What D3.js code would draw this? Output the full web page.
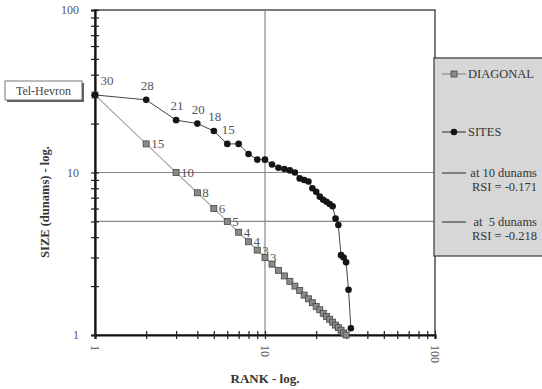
<!DOCTYPE html>
<html>
<head>
<meta charset="utf-8">
<script src="https://cdn.jsdelivr.net/npm/d3@7"></script>
<style>
  body { margin: 0; background: #fff; }
  text { font-family: 'Liberation Serif', 'DejaVu Serif', serif; }
</style>
</head>
<body>
<svg width="542" height="389"></svg>
<script>
// rank-size data
var diagRanks = [1,2,3,4,5,6,7,8,9,10,11,12,13,14,15,16,17,18,19,20,21,22,23,24,25,26,27,28,29,30];
var diagSizes = [30,15,10,7.5,6,5,4.29,3.75,3.33,3,2.73,2.5,2.31,2.14,2,1.88,1.76,1.67,1.58,1.5,1.43,1.36,1.3,1.25,1.2,1.15,1.11,1.07,1.03,1];
var diagLabels = ["","15","10","8","6","5","4","4","3","3"];

var siteRanks = [1,2,3,4,5,6,7,8,9,10,11,12,13,14,15,16,17,18,19,20,21,22,23,24,25,26,27,28,29,30,31,32];
var siteSizes = [30,28,21,20,18,15,15,13,12,12,11.2,10.7,10.5,10.3,10,9.2,9,8.8,8,7.6,7.1,6.8,6.6,6.4,6.2,5.2,4.75,3.1,3,2.8,1.9,1.1];
var siteLabels = ["30","28","21","20","18","15"];

var gridSizes = [10, 5];
var gridRanks = [10];
var majorTicks = [1, 10, 100];
var minorTicks = [1,2,3,4,5,6,7,8,9,10,20,30,40,50,60,70,80,90,100];

var legendItems = [
  {name: "DIAGONAL", kind: "diag"},
  {name: "SITES", kind: "site"},
  {name: "at 10 dunams", sub: "RSI = -0.171", kind: "line"},
  {name: "at  5 dunams", sub: "RSI = -0.218", kind: "line"}
];

var serif = "'Liberation Serif', 'DejaVu Serif', serif";

var svg = d3.select('svg').attr('font-family', serif);

var x = d3.scaleLog().domain([1, 100]).range([95, 435]);
var y = d3.scaleLog().domain([1, 100]).range([335, 10]);

// frame
svg.append('rect')
    .attr('x', 95).attr('y', 10)
    .attr('width', 340).attr('height', 325)
    .attr('fill', 'none')
    .attr('stroke', '#333')
    .attr('stroke-width', 1.3);

// grid lines
svg.selectAll('.hgrid')
    .data(gridSizes)
    .enter()
    .append('line')
    .attr('x1', 95).attr('x2', 435)
    .attr('y1', function(d) { return y(d); })
    .attr('y2', function(d) { return y(d); })
    .attr('stroke', '#888')
    .attr('stroke-width', 1.2);

svg.selectAll('.vgrid')
    .data(gridRanks)
    .enter()
    .append('line')
    .attr('x1', function(d) { return x(d); })
    .attr('x2', function(d) { return x(d); })
    .attr('y1', 10).attr('y2', 335)
    .attr('stroke', '#888')
    .attr('stroke-width', 1.2);

function fmt(d) { return majorTicks.indexOf(d) >= 0 ? String(d) : ''; }

var yAxis = svg.append('g')
    .attr('transform', 'translate(95,0)')
    .call(d3.axisLeft(y).tickValues(minorTicks).tickFormat(fmt).tickSize(4).tickPadding(12));

var xAxis = svg.append('g')
    .attr('transform', 'translate(0,335)')
    .call(d3.axisBottom(x).tickValues(minorTicks).tickFormat(fmt).tickSize(4).tickPadding(10));

[yAxis, xAxis].forEach(function(ax) {
  ax.attr('font-family', serif).attr('font-size', 12);
  ax.select('.domain').attr('stroke', '#111').attr('stroke-width', 2.2);
  ax.selectAll('.tick line').attr('stroke', '#222').attr('stroke-width', 1.2);
  ax.selectAll('text').attr('fill', '#555');
});
yAxis.selectAll('.tick line').attr('x1', 4);
xAxis.selectAll('.tick line').attr('y1', -4);
xAxis.selectAll('text')
    .attr('transform', 'rotate(90)')
    .attr('x', 10).attr('y', 0).attr('dy', '0.35em')
    .attr('text-anchor', 'start');

var diagData = diagRanks.map(function(r, i) { return {r: r, v: diagSizes[i], label: diagLabels[i] || ''}; });
var siteData = siteRanks.map(function(r, i) { return {r: r, v: siteSizes[i], label: siteLabels[i] || ''}; });

var line = d3.line()
    .x(function(d) { return x(d.r); })
    .y(function(d) { return y(d.v); });

// diagonal
svg.append('path')
    .datum(diagData)
    .attr('d', line)
    .attr('fill', 'none')
    .attr('stroke', '#aaa')
    .attr('stroke-width', 1.2);

svg.selectAll('.sq')
    .data(diagData)
    .enter()
    .append('rect')
    .attr('x', function(d) { return x(d.r) - 3; })
    .attr('y', function(d) { return y(d.v) - 3; })
    .attr('width', 6).attr('height', 6)
    .attr('fill', '#8a8a8a')
    .attr('stroke', '#444')
    .attr('stroke-width', 0.8);

svg.selectAll('.dlab')
    .data(diagData.filter(function(d) { return d.label; }))
    .enter()
    .append('text')
    .attr('x', function(d) { return x(d.r) + 5; })
    .attr('y', function(d) { return y(d.v); })
    .attr('dy', '0.35em')
    .attr('fill', '#555')
    .attr('font-size', 13)
    .text(function(d) { return d.label; });

// sites
svg.append('path')
    .datum(siteData)
    .attr('d', line)
    .attr('fill', 'none')
    .attr('stroke', '#444')
    .attr('stroke-width', 1);

svg.selectAll('.dot')
    .data(siteData)
    .enter()
    .append('circle')
    .attr('cx', function(d) { return x(d.r); })
    .attr('cy', function(d) { return y(d.v); })
    .attr('r', 3.3)
    .attr('fill', '#151515');

svg.selectAll('.slab')
    .data(siteData.filter(function(d) { return d.label; }))
    .enter()
    .append('text')
    .attr('x', function(d, i) { return x(d.r) + (i == 0 ? 12 : 1); })
    .attr('y', function(d) { return y(d.v) - 10; })
    .attr('text-anchor', 'middle')
    .attr('fill', '#555')
    .attr('font-size', 13)
    .text(function(d) { return d.label; });

// Tel-Hevron box
svg.append('rect')
    .attr('x', 7).attr('y', 83).attr('width', 77).attr('height', 19)
    .attr('fill', '#666');
svg.append('rect')
    .attr('x', 5).attr('y', 81).attr('width', 77).attr('height', 19)
    .attr('fill', '#fff').attr('stroke', '#555').attr('stroke-width', 0.8);
svg.append('text')
    .attr('x', 43.5).attr('y', 95)
    .attr('text-anchor', 'middle')
    .attr('fill', '#444')
    .attr('font-size', 12)
    .text('Tel-Hevron');

// axis titles
svg.append('text')
    .attr('x', 265).attr('y', 383)
    .attr('text-anchor', 'middle')
    .attr('fill', '#333')
    .attr('font-size', 13).attr('font-weight', 'bold')
    .text('RANK - log.');

svg.append('text')
    .attr('transform', 'translate(49,202) rotate(-90)')
    .attr('text-anchor', 'middle')
    .attr('fill', '#333')
    .attr('font-size', 12.5).attr('font-weight', 'bold')
    .text('SIZE (dunams) - log.');

// legend
svg.append('rect')
    .attr('x', 434).attr('y', 58).attr('width', 120).attr('height', 198)
    .attr('fill', '#d7d7d7')
    .attr('stroke', '#444')
    .attr('stroke-width', 1.3);

var legY = [74, 132, 173, 222];
var leg = svg.selectAll('.leg')
    .data(legendItems)
    .enter()
    .append('g')
    .attr('transform', function(d, i) { return 'translate(0,' + legY[i] + ')'; });

leg.append('line')
    .attr('x1', 442).attr('x2', 466)
    .attr('stroke', function(d) { return d.kind == 'diag' ? '#888' : '#444'; })
    .attr('stroke-width', 1.2);

leg.filter(function(d) { return d.kind == 'diag'; })
    .append('rect')
    .attr('x', 451).attr('y', -3).attr('width', 6).attr('height', 6)
    .attr('fill', '#8a8a8a').attr('stroke', '#444').attr('stroke-width', 0.8);

leg.filter(function(d) { return d.kind == 'site'; })
    .append('circle')
    .attr('cx', 454).attr('r', 3.3).attr('fill', '#151515');

leg.append('text')
    .attr('x', function(d) { return d.kind == 'line' ? 537 : 468; })
    .attr('dy', '0.35em')
    .attr('text-anchor', function(d) { return d.kind == 'line' ? 'end' : 'start'; })
    .attr('fill', '#333')
    .attr('font-size', 12.5)
    .style('white-space', 'pre')
    .text(function(d) { return d.name; });

leg.filter(function(d) { return d.sub; })
    .append('text')
    .attr('x', 537).attr('y', 14).attr('dy', '0.35em')
    .attr('text-anchor', 'end')
    .attr('fill', '#333')
    .attr('font-size', 12.5)
    .text(function(d) { return d.sub; });
</script>
</body>
</html>
